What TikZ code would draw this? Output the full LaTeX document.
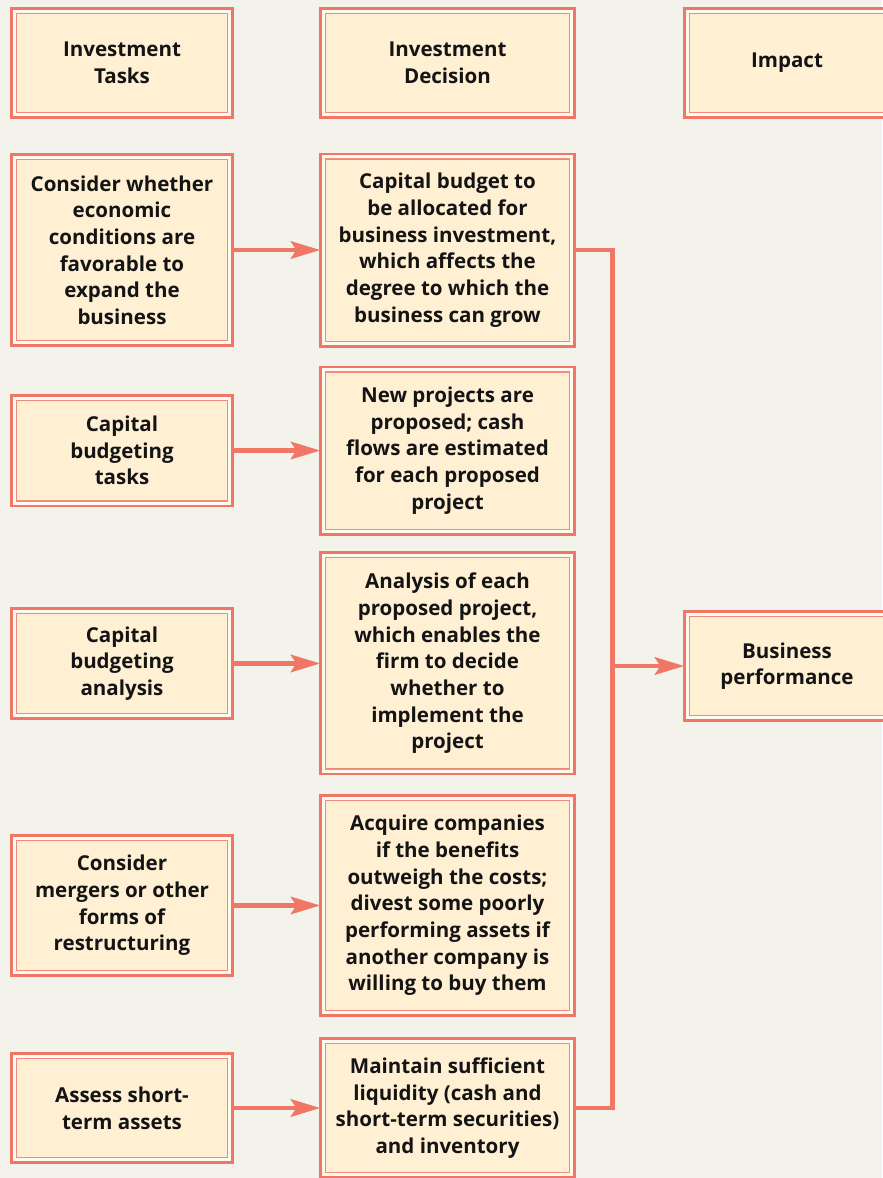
\documentclass[tikz,border=0pt]{standalone}
\usepackage{fontspec}
\setmainfont{Open Sans}
\usepackage{xcolor}
\usetikzlibrary{arrows.meta,positioning}
\definecolor{salmon}{RGB}{240,118,102}
\definecolor{cream}{RGB}{255,240,212}
\definecolor{paper}{RGB}{243,243,235}

\begin{document}
\begin{tikzpicture}[x=1pt, y=-1pt, font=\bfseries\fontsize{15.4}{20}\selectfont, text=black!92,
  box/.style={draw=salmon, line width=1.9pt, fill=cream!35!white, align=center, inner sep=2pt, outer sep=0pt,
    path picture={\draw[salmon!85, fill=cream, line width=1.1pt] ([shift={(3.75pt,-3.75pt)}]path picture bounding box.north west) rectangle ([shift={(-3.75pt,3.75pt)}]path picture bounding box.south east);}},
  tcol/.style={box, minimum width=166.1pt},
  dcol/.style={box, minimum width=190.85pt},
  icol/.style={box, minimum width=154.1pt},
  line/.style={draw=salmon, line width=3.6pt},
  arr/.style={line, -{Stealth[length=22pt, width=13pt, inset=4pt]}}]
\fill[paper] (0,0) rectangle (661.5,883.5);
\useasboundingbox (0,0) rectangle (661.5,883.5);
% headers
\node[tcol, minimum height=82.1pt] (head-tasks) at (91.5,47.25) {Investment\\Tasks};
\node[dcol, minimum height=82.1pt, right=65.65pt of head-tasks] (head-dec) {Investment\\Decision};
\node[icol, minimum height=82.1pt, right=82.15pt of head-dec] (head-impact) {Impact};
% tasks
\node[tcol, minimum height=143.6pt] (task1) at (91.5,187.5) {Consider whether\\economic\\conditions are\\favorable to\\expand the\\business};
\node[tcol, minimum height=82.85pt] (task2) at (91.5,337.9) {Capital\\budgeting\\tasks};
\node[tcol, minimum height=82.85pt] (task3) at (91.5,497.6) {Capital\\budgeting\\analysis};
\node[tcol, minimum height=105.35pt] (task4) at (91.5,679.1) {Consider\\mergers or other\\forms of\\restructuring};
\node[tcol, minimum height=82.1pt] (task5) at (91.5,831) {Assess short-\\term assets};
% decisions
\node[dcol, minimum height=144.35pt, right=65.65pt of task1] (dec1) {Capital budget to\\be allocated for\\business investment,\\which affects the\\degree to which the\\business can grow};
\node[dcol, minimum height=125.6pt, right=65.65pt of task2] (dec2) {New projects are\\proposed; cash\\flows are estimated\\for each proposed\\project};
\node[dcol, minimum height=166.1pt, right=65.65pt of task3] (dec3) {Analysis of each\\proposed project,\\which enables the\\firm to decide\\whether to\\implement the\\project};
\node[dcol, minimum height=165.35pt, right=65.65pt of task4] (dec4) {Acquire companies\\if the benefits\\outweigh the costs;\\divest some poorly\\performing assets if\\another company is\\willing to buy them};
\node[dcol, minimum height=104.6pt, right=65.65pt of task5] (dec5) {Maintain sufficient\\liquidity (cash and\\short-term securities)\\and inventory};
% impact
\node[icol, minimum height=82.1pt] (perf) at (head-impact |- 0,499.5) {Business\\performance};
\foreach \i in {1,...,5}
  \draw[arr] (task\i) -- (dec\i);
\coordinate[right=28.3pt of dec1.east] (bus);
\draw[line] (dec1.east) -- (dec1.east -| bus) -- (dec5.east -| bus) -- (dec5.east);
\draw[arr] (perf.west -| bus) -- (perf.west);
\end{tikzpicture}
\end{document}
